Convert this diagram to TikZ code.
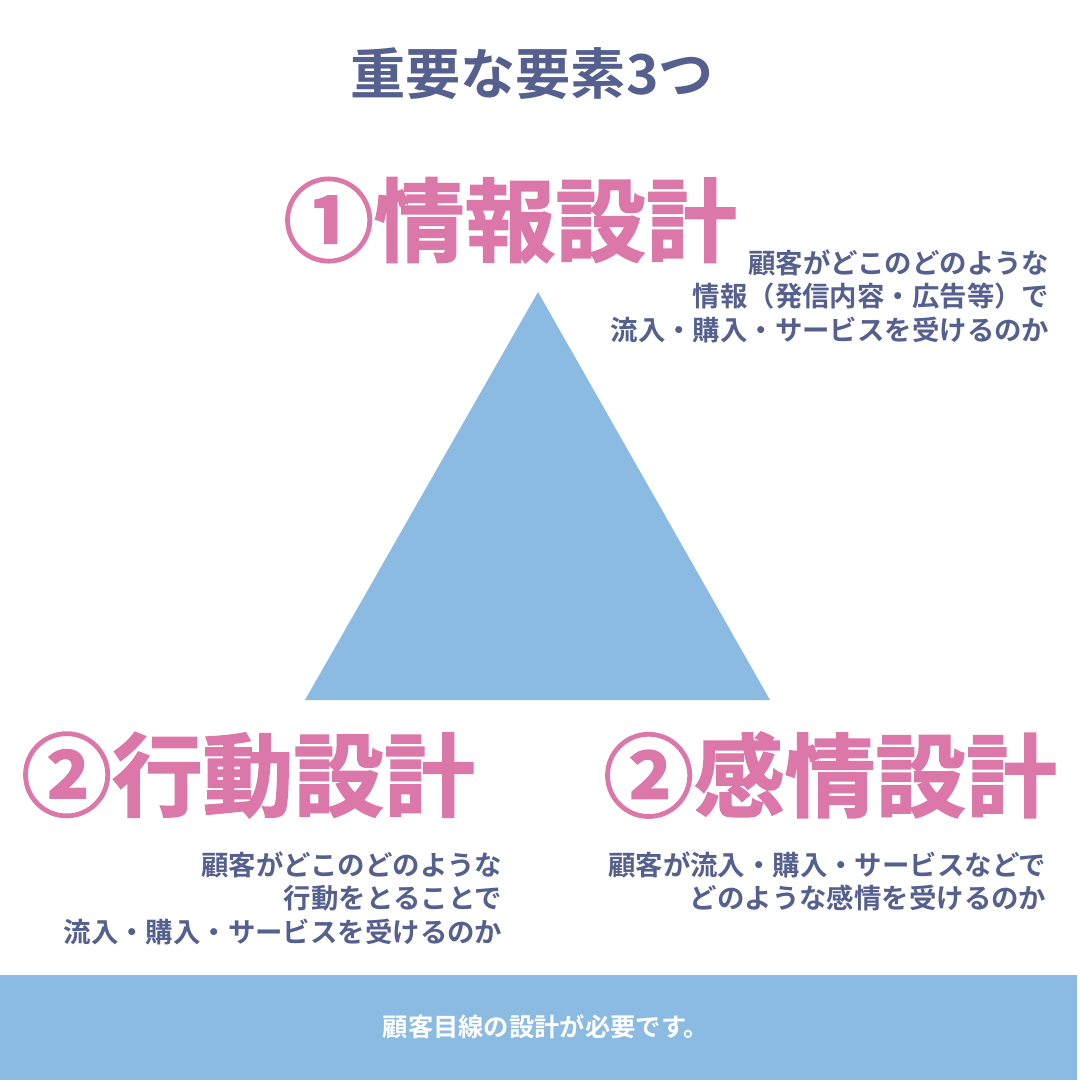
\documentclass[tikz,border=0pt]{standalone}
\usepackage{fontspec}
\usepackage{tikz}
\setmainfont{Noto Sans CJK JP}[BoldFont={Noto Sans CJK JP Bold}]
\newfontfamily\heavyfont{Noto Sans CJK JP Bold}[FakeBold=1.6]

\definecolor{pinkhead}{HTML}{DC77AA}
\definecolor{navytext}{HTML}{55608F}
\definecolor{skyblue}{HTML}{8BBBE3}

\begin{document}
\begin{tikzpicture}[
    x=0.1mm, y=-0.1mm,
    every node/.style={inner sep=0pt},
    title/.style={text=navytext, font=\fontsize{15.7}{18}\selectfont\bfseries},
    head/.style={text=pinkhead, font=\fontsize{25.8}{30}\selectfont\heavyfont},
    note/.style={text=navytext, align=right, anchor=north east, font=\fontsize{7.8}{9.5}\selectfont\bfseries},
    banner/.style={text=white, font=\fontsize{7.2}{9}\selectfont\bfseries}
]
\useasboundingbox (0,0) rectangle (1080,1080);

% triangle
\coordinate (apex) at (538,292);
\coordinate (baseL) at (305,700);
\coordinate (baseR) at (770,700);
\fill[skyblue] (apex) -- (baseL) -- (baseR) -- cycle;

\node[title] (heading) at (532,74) {重要な要素3つ};

\node[head] (info) at (510,220) {①情報設計};
\node[note] (infonote) at (1050,249) {顧客がどこのどのような\\情報（発信内容・広告等）で\\流入・購入・サービスを受けるのか};

\node[head] (action) at (248,775) {②行動設計};
\node[note] (actionnote) at (503,851) {顧客がどこのどのような\\行動をとることで\\流入・購入・サービスを受けるのか};

\node[head] (feel) at (830,775) {②感情設計};
\node[note] (feelnote) at (1047,851) {顧客が流入・購入・サービスなどで\\どのような感情を受けるのか};

% bottom bar
\fill[skyblue] (0,975) rectangle (1077,1080);
\node[banner] (summary) at (546,1027) {顧客目線の設計が必要です。};

\end{tikzpicture}
\end{document}
